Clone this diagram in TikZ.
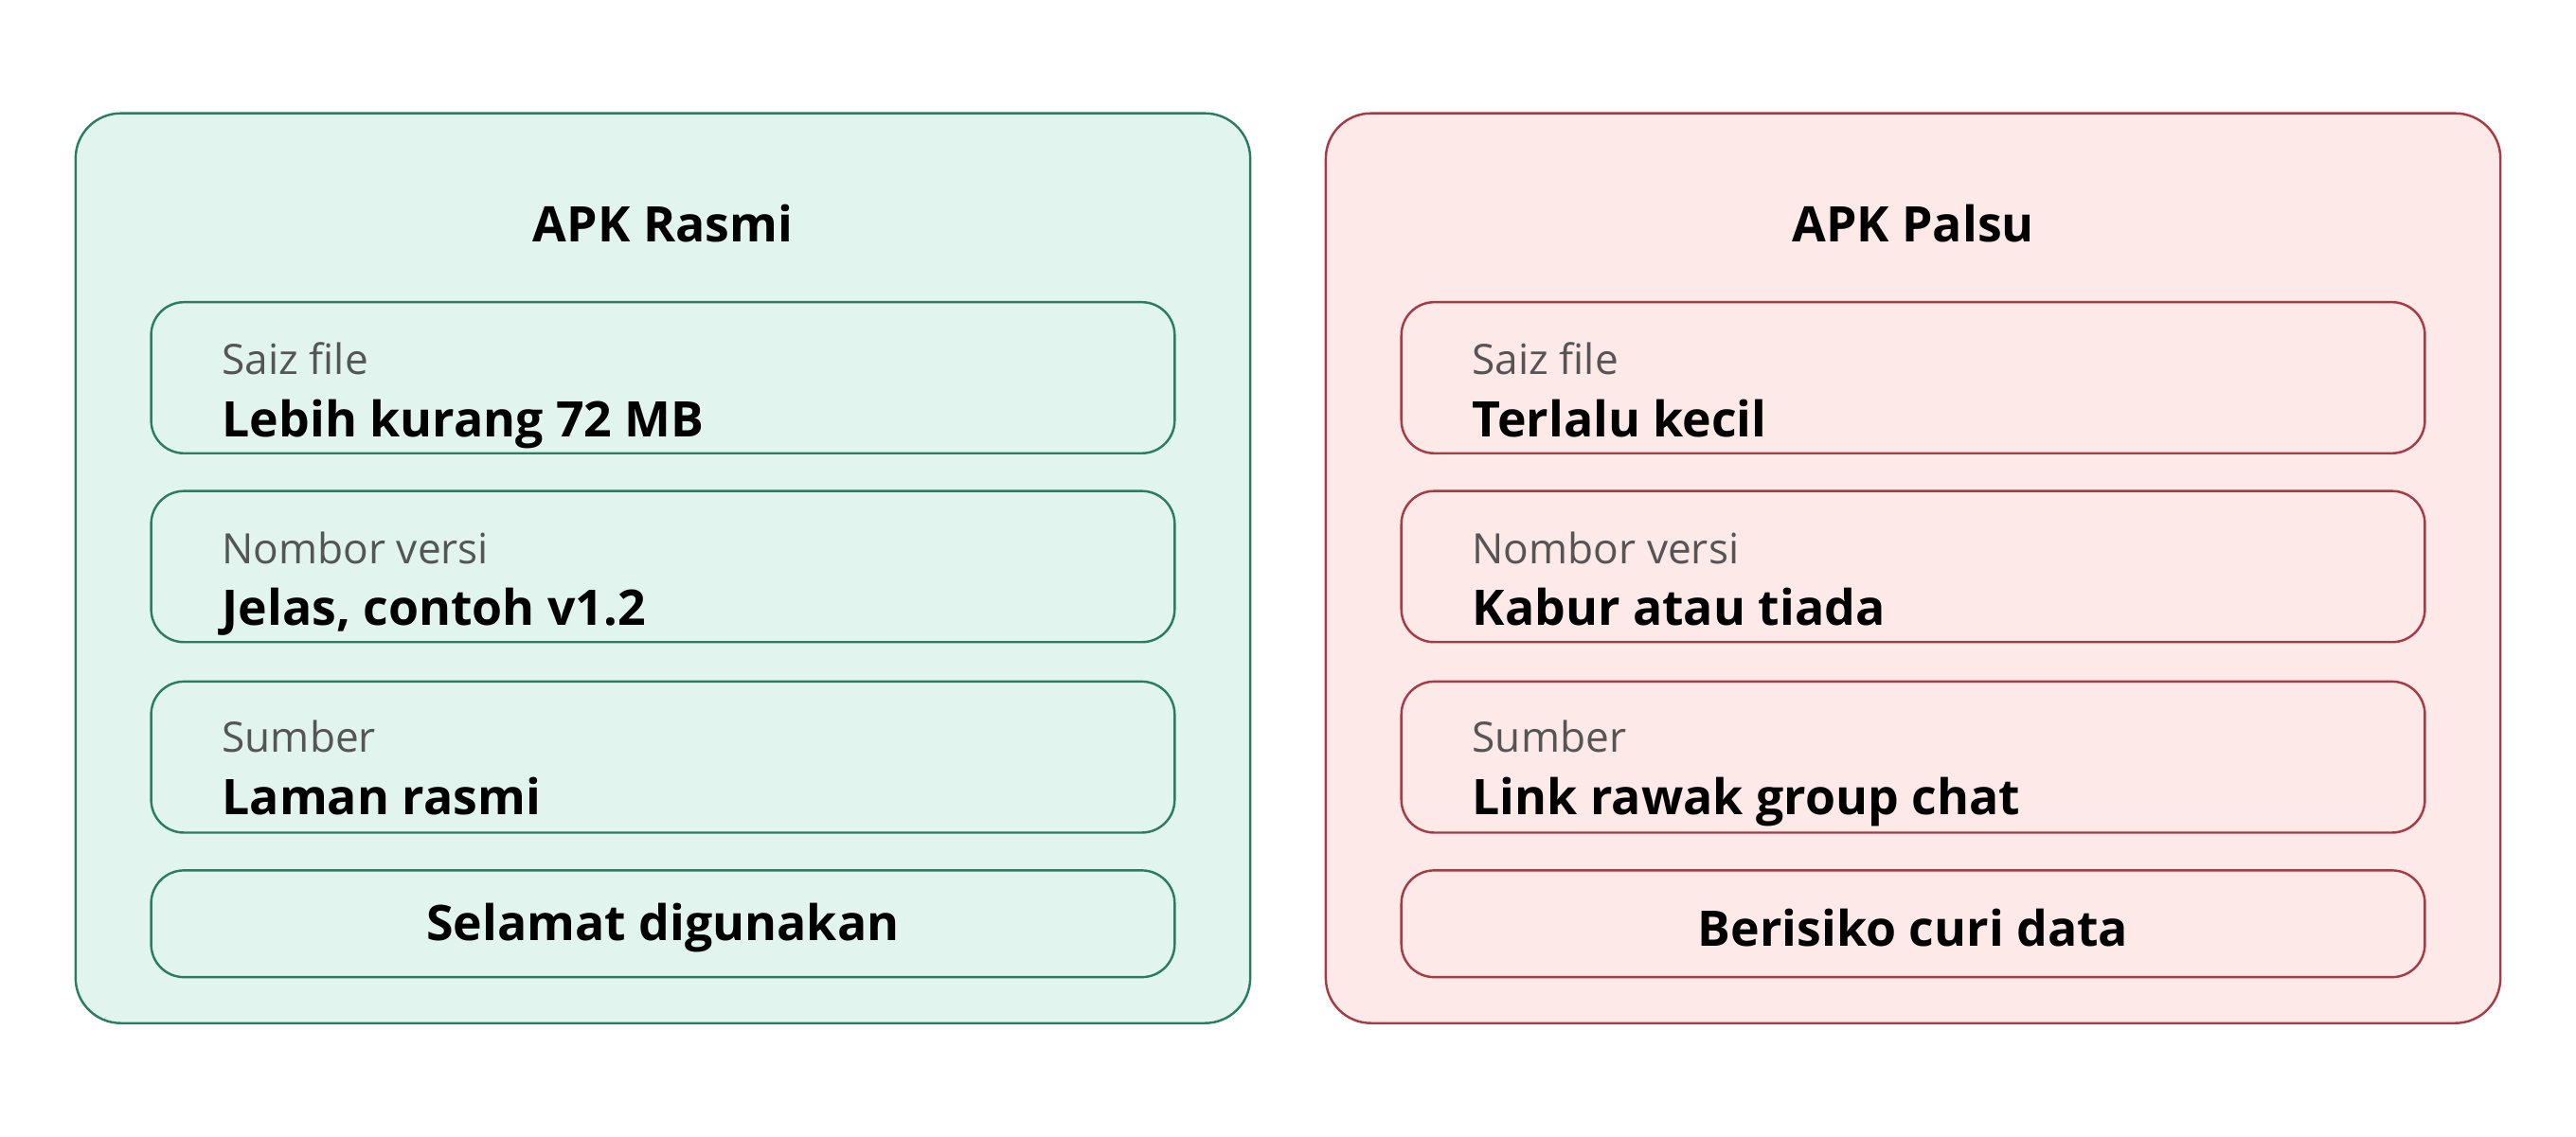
\documentclass[tikz,border=0pt]{standalone}
\usepackage{fontspec}
\setmainfont{Open Sans}
\definecolor{gfill}{HTML}{E2F4EE}
\definecolor{gline}{HTML}{2A7D5F}
\definecolor{rfill}{HTML}{FCE9E8}
\definecolor{rline}{HTML}{A83A45}
\definecolor{lab}{HTML}{555555}
\begin{document}
\begin{tikzpicture}[x=0.02cm,y=-0.02cm,
  outer/.style={draw=#1,line width=0.8pt,rounded corners=0.55cm},
  inner/.style={draw=#1,line width=0.8pt,rounded corners=0.4cm},
  title/.style={font=\fontsize{17}{20}\selectfont\bfseries,anchor=center},
  lbl/.style={font=\fontsize{14.5}{17}\selectfont,text=lab,anchor=base west},
  val/.style={font=\fontsize{17}{20}\selectfont\bfseries,anchor=base west},
  res/.style={font=\fontsize{17}{20}\selectfont\bfseries,anchor=center}]
\useasboundingbox (0,0) rectangle (1568,692);
\foreach \side/\ox/\fc/\lc/\T/\a/\b/\c/\R in {
  L/46/gfill/gline/APK Rasmi/Lebih kurang 72 MB/{Jelas, contoh v1.2}/Laman rasmi/Selamat digunakan,
  R/807/rfill/rline/APK Palsu/Terlalu kecil/Kabur atau tiada/Link rawak group chat/Berisiko curi data}{
  \draw[outer=\lc,fill=\fc] (\ox,69) rectangle ++(715,554);
  \node[title] (t\side) at (\ox+357.5,136) {\T};
  \draw[inner=\lc] (\ox+46,184) rectangle ++(623,92);
  \draw[inner=\lc] (\ox+46,299) rectangle ++(623,92);
  \draw[inner=\lc] (\ox+46,415) rectangle ++(623,92);
  \draw[inner=\lc] (\ox+46,530) rectangle ++(623,65);
  \node[lbl] (l1\side) at (\ox+83,228) {Saiz file};
  \node[val] (v1\side) at (\ox+83,266) {\a};
  \node[lbl] (l2\side) at (\ox+83,343) {Nombor versi};
  \node[val] (v2\side) at (\ox+83,381) {\b};
  \node[lbl] (l3\side) at (\ox+83,458) {Sumber};
  \node[val] (v3\side) at (\ox+83,496) {\c};
  \node[res] (r\side) at (\ox+357.5,565) {\R};
}
\end{tikzpicture}
\end{document}
